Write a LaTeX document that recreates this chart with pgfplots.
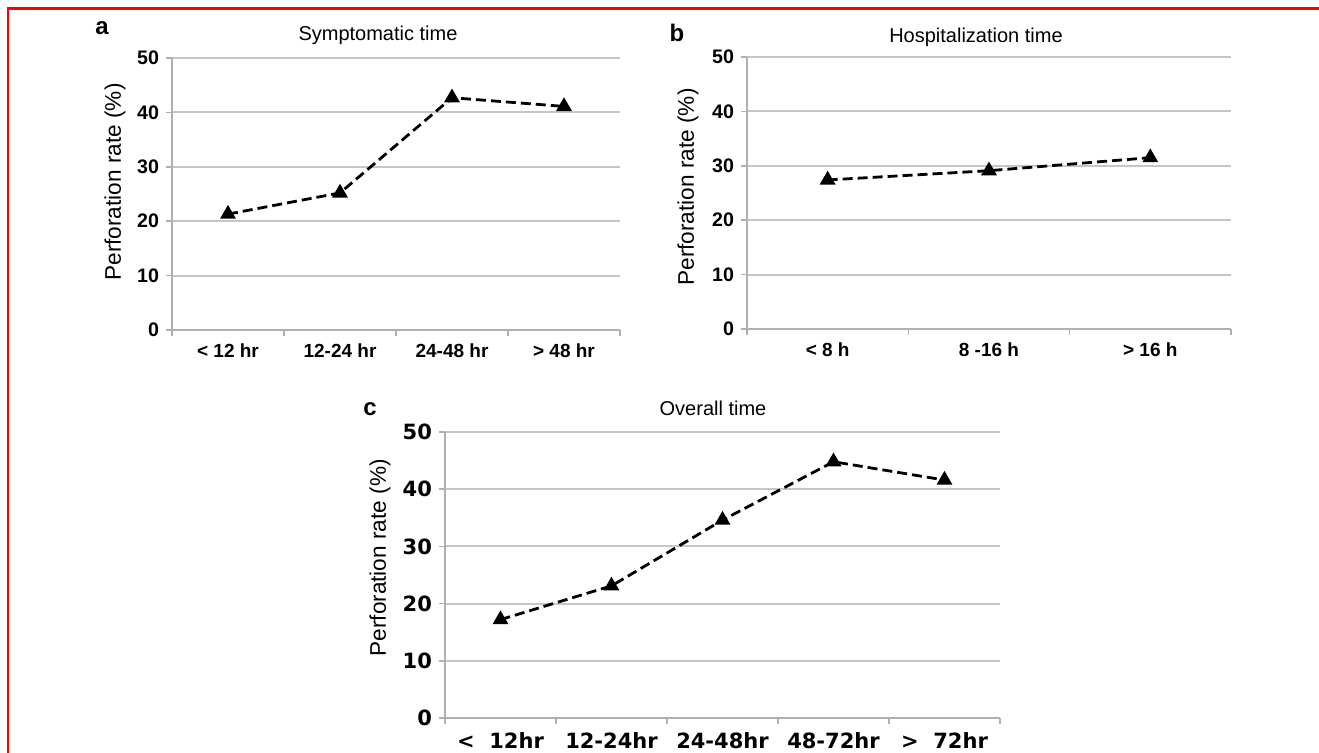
\documentclass[border=0pt]{standalone}
\usepackage{fontspec}
\setmainfont{Liberation Sans}
\newfontfamily\dejavu{DejaVu Sans}
\usepackage{pgfplots}
\pgfplotsset{compat=1.18}
\definecolor{gridgray}{HTML}{C6C6C6}
\definecolor{axisgray}{HTML}{B0B0B0}

\pgfplotsset{
  perfpanel/.style={
    scale only axis,
    anchor=south west,
    ymin=0, ymax=50,
    ytick={0,10,20,30,40,50},
    axis x line*=bottom,
    axis y line*=left,
    axis line style={draw=axisgray, line width=0.8pt},
    ymajorgrids,
    major grid style={draw=gridgray, line width=1pt},
    tick align=outside,
    major tick length=3pt,
    tick style={draw=axisgray, line width=0.8pt},
    xticklabels={},
    /pgf/number format/assume math mode=true,
    yticklabel style={font=\fontsize{9.8}{10}\selectfont\bfseries, anchor=east},
    ylabel={Perforation rate (\%)},
    ylabel style={font=\fontsize{11.3}{12}\selectfont, anchor=center},
    clip=false,
  },
  cattick/.style={
    extra x tick style={
      major tick length=0pt,
      xticklabel style={font=#1, anchor=center, yshift=-10.5pt},
    },
  },
  perfline/.style={black, line width=1.4pt, dash pattern=on 5pt off 2.5pt,
    mark=triangle*, mark size=3.2pt, mark options={solid, fill=black}},
}

\begin{document}
\begin{tikzpicture}
  \path[use as bounding box] (0pt,0pt) rectangle (659.5pt,-376.5pt);
  \draw[red, line width=1.1pt] (3.9pt,-376.5pt) -- (3.9pt,-4.3pt) -- (659.5pt,-4.3pt);

  % a: symptomatic time
  \begin{axis}[perfpanel, at={(86pt,-165pt)}, width=224pt, height=136pt,
    xmin=0.5, xmax=4.5, xtick={0.5,1.5,2.5,3.5,4.5},
    extra x ticks={1,2,3,4},
    extra x tick labels={{< 12 hr},{12-24 hr},{24-48 hr},{> 48 hr}},
    cattick={\fontsize{9.5}{10}\selectfont\bfseries},
    ylabel style={at={(axis description cs:-0.127,0.544)}},
  ]
    \addplot[perfline] coordinates {(1,21.3) (2,25.2) (3,42.7) (4,41.1)};
  \end{axis}

  % b: hospitalization time
  \begin{axis}[perfpanel, at={(373.5pt,-164.5pt)}, width=242pt, height=136pt,
    xmin=0.5, xmax=3.5, xtick={0.5,1.5,2.5,3.5},
    extra x ticks={1,2,3},
    extra x tick labels={{< 8 h},{8 -16 h},{> 16 h}},
    cattick={\fontsize{9.5}{10}\selectfont\bfseries},
    ylabel style={at={(axis description cs:-0.122,0.522)}},
  ]
    \addplot[perfline] coordinates {(1,27.4) (2,29.1) (3,31.5)};
  \end{axis}

  % c: overall time
  \begin{axis}[perfpanel, at={(222.5pt,-359pt)}, width=277.5pt, height=143pt,
    xmin=0.5, xmax=5.5, xtick={0.5,1.5,2.5,3.5,4.5,5.5},
    extra x ticks={1,2,3,4,5},
    extra x tick labels={{<\ \ 12hr},{12-24hr},{24-48hr},{48-72hr},{>\ \ 72hr}},
    cattick={\dejavu\fontsize{10.5}{11}\selectfont\bfseries},
    extra x tick style={xticklabel style={yshift=-1pt}},
    yticklabel style={font=\dejavu\fontsize{10.5}{11}\selectfont\bfseries},
    ylabel style={at={(axis description cs:-0.117,0.56)}},
  ]
    \addplot[perfline] coordinates {(1,17.2) (2,23.1) (3,34.6) (4,44.8) (5,41.6)};
  \end{axis}

  \node[font=\fontsize{10}{12}\selectfont] at (189pt,-17.5pt) {Symptomatic time};
  \node[font=\fontsize{10}{12}\selectfont] at (488pt,-18.5pt) {Hospitalization time};
  \node[font=\fontsize{10}{12}\selectfont] at (356.5pt,-204pt) {Overall time};
  \node[font=\fontsize{12}{14}\selectfont\bfseries] at (51pt,-14pt) {a};
  \node[font=\fontsize{12}{14}\selectfont\bfseries] at (338.5pt,-16.5pt) {b};
  \node[font=\fontsize{12}{14}\selectfont\bfseries] at (185pt,-204.5pt) {c};
\end{tikzpicture}
\end{document}
